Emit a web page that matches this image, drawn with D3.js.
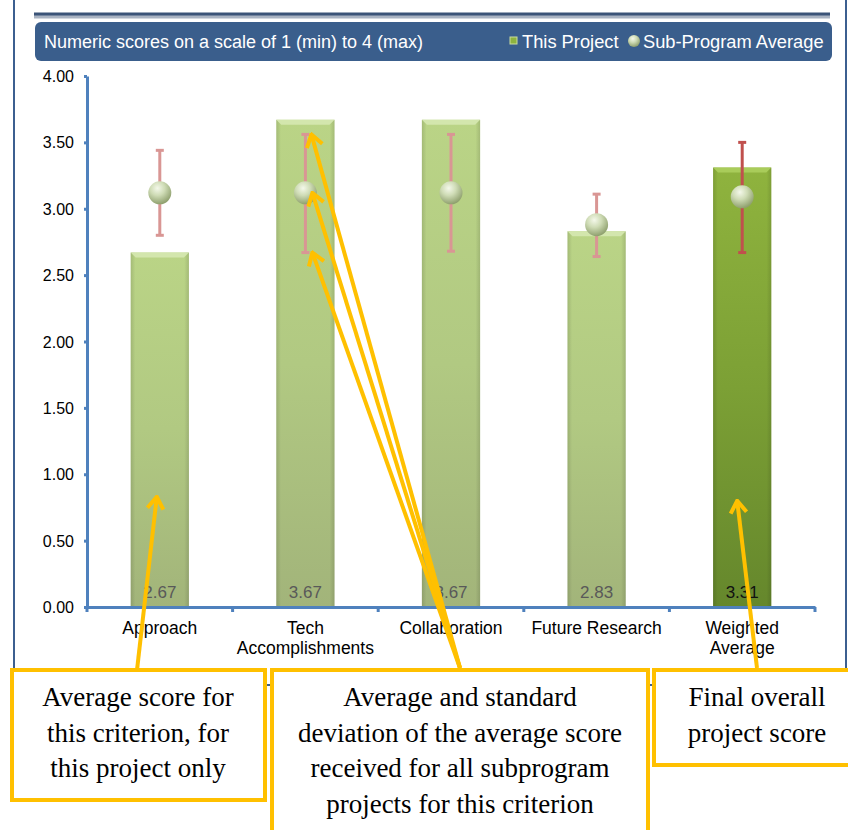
<!DOCTYPE html>
<html>
<head>
<meta charset="utf-8">
<script src="https://cdn.jsdelivr.net/npm/d3@7"></script>
<style>
  body { margin: 0; background: #fff; }
  svg { display: block; }
</style>
</head>
<body>
<svg width="848" height="830"></svg>
<script>
const svg = d3.select('svg');

// data
const categories = ['Approach', 'Tech Accomplishments', 'Collaboration', 'Future Research', 'Weighted Average'];
const categoryLines = [['Approach'], ['Tech', 'Accomplishments'], ['Collaboration'], ['Future Research'], ['Weighted', 'Average']];
const projectScores = [2.67, 3.67, 3.67, 2.83, 3.31];
const subProgramAvg = [3.12, 3.12, 3.12, 2.88, 3.09];
const subProgramLow = [2.80, 2.67, 2.68, 2.64, 2.67];
const subProgramHigh = [3.44, 3.56, 3.56, 3.11, 3.50];
const yTicks = [0, 0.5, 1, 1.5, 2, 2.5, 3, 3.5, 4];

const notes = [
  ['Average score for', 'this criterion, for', 'this project only'],
  ['Average and standard', 'deviation of the average score', 'received for all subprogram', 'projects for this criterion'],
  ['Final overall', 'project score']
];

const sans = 'Liberation Sans, Arial, sans-serif';
const serif = 'Liberation Serif, Times New Roman, serif';

const x = d3.scaleBand()
  .domain(categories)
  .range([87, 815])
  .paddingInner(0.6)
  .paddingOuter(0.3);

const y = d3.scaleLinear()
  .domain([0, 4])
  .range([607, 76]);

const cx = c => x(c) + x.bandwidth() / 2;
const rows = categories.map((c, i) => ({
  cat: c, lines: categoryLines[i], score: projectScores[i],
  avg: subProgramAvg[i], lo: subProgramLow[i], hi: subProgramHigh[i],
  total: i === categories.length - 1
}));

// gradients
const defs = svg.append('defs');
const lin = (id, stops) => {
  const g = defs.append('linearGradient').attr('id', id)
    .attr('x1', 0).attr('y1', 0).attr('x2', 0).attr('y2', 1);
  stops.forEach(s => g.append('stop').attr('offset', s[0]).attr('stop-color', s[1]));
};
lin('barLight', [[0, '#bad486'], [0.5, '#b1c982'], [1, '#a2b47a']]);
lin('barDark', [[0, '#8fb33e'], [0.5, '#7ca035'], [1, '#65872c']]);
const hlin = (id, stops) => {
  const g = defs.append('linearGradient').attr('id', id)
    .attr('x1', 0).attr('y1', 0).attr('x2', 1).attr('y2', 0);
  stops.forEach(s => g.append('stop').attr('offset', s[0]).attr('stop-color', s[1]).attr('stop-opacity', s[2]));
};
hlin('barSide', [[0, '#000', 0.12], [0.08, '#000', 0], [0.92, '#000', 0], [1, '#000', 0.12]]);

const rad = defs.append('radialGradient').attr('id', 'ball')
  .attr('cx', 0.4).attr('cy', 0.3).attr('r', 0.7);
rad.append('stop').attr('offset', 0).attr('stop-color', '#f4f8ea');
rad.append('stop').attr('offset', 0.45).attr('stop-color', '#cfdcb6');
rad.append('stop').attr('offset', 1).attr('stop-color', '#8fa06e');

defs.append('marker').attr('id', 'chev')
  .attr('viewBox', '-14 -10 16 20')
  .attr('markerUnits', 'userSpaceOnUse')
  .attr('markerWidth', 16).attr('markerHeight', 20)
  .attr('refX', 0).attr('refY', 0)
  .attr('orient', 'auto')
  .append('path')
  .attr('d', 'M-12,-8 L0,0 L-12,8')
  .attr('fill', 'none').attr('stroke', '#ffc000')
  .attr('stroke-width', 4).attr('stroke-linejoin', 'miter');

// outer frame
svg.append('rect')
  .attr('x', 14).attr('y', -5).attr('width', 832).attr('height', 690)
  .attr('fill', 'none').attr('stroke', '#3c5f90').attr('stroke-width', 2);
svg.append('line')
  .attr('x1', 34).attr('x2', 830).attr('y1', 16).attr('y2', 16)
  .attr('stroke', '#a9b3c2').attr('stroke-width', 5);
svg.append('line')
  .attr('x1', 34).attr('x2', 830).attr('y1', 14).attr('y2', 14)
  .attr('stroke', '#3b5478').attr('stroke-width', 3);

// header bar with legend
svg.append('rect')
  .attr('x', 35).attr('y', 22).attr('width', 797).attr('height', 39).attr('rx', 6)
  .attr('fill', '#3a5e8c');
svg.append('text')
  .attr('x', 44).attr('y', 48)
  .attr('fill', '#fff').attr('font-family', sans).attr('font-size', 18)
  .text('Numeric scores on a scale of 1 (min) to 4 (max)');
svg.append('rect')
  .attr('x', 510).attr('y', 37).attr('width', 7).attr('height', 7)
  .attr('fill', '#8db33f').attr('stroke', '#c9dc9e').attr('stroke-width', 1);
svg.append('text')
  .attr('x', 522).attr('y', 48)
  .attr('fill', '#fff').attr('font-family', sans).attr('font-size', 18.3)
  .text('This Project');
svg.append('circle')
  .attr('cx', 634).attr('cy', 41).attr('r', 6)
  .attr('fill', 'url(#ball)');
svg.append('text')
  .attr('x', 643).attr('y', 48)
  .attr('fill', '#fff').attr('font-family', sans).attr('font-size', 18.3)
  .text('Sub-Program Average');

// bars
const bars = svg.append('g').selectAll('g.bar')
  .data(rows)
  .enter()
  .append('g').attr('class', 'bar');

bars.append('rect')
  .attr('x', d => x(d.cat))
  .attr('y', d => y(d.score))
  .attr('width', x.bandwidth())
  .attr('height', d => y(0) - y(d.score))
  .attr('fill', d => d.total ? 'url(#barDark)' : 'url(#barLight)');
bars.append('rect')
  .attr('x', d => x(d.cat))
  .attr('y', d => y(d.score))
  .attr('width', x.bandwidth())
  .attr('height', d => y(0) - y(d.score))
  .attr('fill', 'url(#barSide)');
// bevelled top edge
bars.append('path')
  .attr('d', d => {
    const x0 = x(d.cat), x1 = x0 + x.bandwidth(), t = y(d.score);
    return `M${x0},${t} L${x1},${t} L${x1 - 5},${t + 5} L${x0 + 5},${t + 5} Z`;
  })
  .attr('fill', d => d.total ? '#a9cc5a' : '#d3e6ad');

bars.append('text')
  .attr('x', d => cx(d.cat))
  .attr('y', y(0) - 9)
  .attr('text-anchor', 'middle')
  .attr('font-family', sans).attr('font-size', 17)
  .attr('fill', d => d.total ? '#111' : '#595959')
  .text(d => d.score.toFixed(2));

// error bars and averages
const err = svg.append('g').selectAll('g.err')
  .data(rows)
  .enter()
  .append('g').attr('class', 'err')
  .attr('stroke', d => d.total ? '#c0504d' : '#d99694')
  .attr('stroke-width', 3);
err.append('line')
  .attr('x1', d => cx(d.cat)).attr('x2', d => cx(d.cat))
  .attr('y1', d => y(d.hi)).attr('y2', d => y(d.lo));
err.append('line')
  .attr('x1', d => cx(d.cat) - 4).attr('x2', d => cx(d.cat) + 4)
  .attr('y1', d => y(d.hi)).attr('y2', d => y(d.hi));
err.append('line')
  .attr('x1', d => cx(d.cat) - 4).attr('x2', d => cx(d.cat) + 4)
  .attr('y1', d => y(d.lo)).attr('y2', d => y(d.lo));
err.append('circle')
  .attr('cx', d => cx(d.cat))
  .attr('cy', d => y(d.avg))
  .attr('r', 11.5)
  .attr('stroke', 'none')
  .attr('fill', 'url(#ball)');

// axes
const yAxis = svg.append('g')
  .attr('transform', `translate(${x.range()[0]},0)`)
  .call(d3.axisLeft(y).tickValues(yTicks).tickFormat(d3.format('.2f')).tickSize(3).tickSizeOuter(0));
yAxis.select('.domain').attr('stroke', '#4f81bd').attr('stroke-width', 3);
yAxis.selectAll('.tick line').attr('stroke', '#4f81bd').attr('stroke-width', 3);
yAxis.selectAll('.tick text')
  .attr('x', -13)
  .attr('dy', '0.35em')
  .attr('fill', '#000')
  .attr('font-family', sans).attr('font-size', 16);

const xAxis = svg.append('g')
  .attr('transform', `translate(0,${y(0)})`)
  .call(d3.axisBottom(x).tickSize(0).tickSizeOuter(0));
xAxis.select('.domain').attr('stroke', '#4f81bd').attr('stroke-width', 3);
xAxis.selectAll('.tick text').remove();
const bounds = d3.range(categories.length + 1).map(i => x.range()[0] + i * x.step());
xAxis.selectAll('line.bound')
  .data(bounds)
  .enter()
  .append('line').attr('class', 'bound')
  .attr('x1', d => d).attr('x2', d => d)
  .attr('y1', 0).attr('y2', 5)
  .attr('stroke', '#4f81bd').attr('stroke-width', 3);

const labels = svg.append('g').selectAll('text')
  .data(rows)
  .enter()
  .append('text')
  .attr('text-anchor', 'middle')
  .attr('font-family', sans).attr('font-size', 17.5)
  .attr('fill', '#000');
labels.selectAll('tspan')
  .data(d => d.lines.map(l => ({ l, c: d.cat })))
  .enter()
  .append('tspan')
  .attr('x', d => cx(d.c))
  .attr('y', (d, i) => y(0) + 27 + i * 20)
  .text(d => d.l);

// annotation arrows
const first = categories[0], second = categories[1], last = categories[categories.length - 1];
const arrows = [
  { from: [137, 670], to: [cx(first) - 3, y(0.83)] },
  { from: [460, 668], to: [cx(second) + 6, y(subProgramHigh[1])] },
  { from: [460, 668], to: [cx(second) + 7, y(subProgramAvg[1])] },
  { from: [460, 668], to: [cx(second) + 7, y(subProgramLow[1])] },
  { from: [757, 668], to: [cx(last) - 5, y(0.8)] }
];
svg.append('g').selectAll('line')
  .data(arrows)
  .enter()
  .append('line')
  .attr('x1', d => d.from[0]).attr('y1', d => d.from[1])
  .attr('x2', d => d.to[0]).attr('y2', d => d.to[1])
  .attr('stroke', '#ffc000').attr('stroke-width', 4)
  .attr('marker-end', 'url(#chev)');

// annotation boxes
const boxes = [
  { x: 12, y: 670, w: 253, h: 130, cx: 138 },
  { x: 272, y: 670, w: 376, h: 170, cx: 460 },
  { x: 654, y: 670, w: 210, h: 95, cx: 757 }
];
const box = svg.append('g').selectAll('g')
  .data(boxes)
  .enter()
  .append('g');
box.append('rect')
  .attr('x', d => d.x).attr('y', d => d.y)
  .attr('width', d => d.w).attr('height', d => d.h)
  .attr('fill', '#fff').attr('stroke', '#ffc000').attr('stroke-width', 4);
box.each(function (d, i) {
  d3.select(this).selectAll('text')
    .data(notes[i])
    .enter()
    .append('text')
    .attr('x', d.cx)
    .attr('y', (t, j) => 706 + j * 35.5)
    .attr('text-anchor', 'middle')
    .attr('font-family', serif).attr('font-size', 27)
    .attr('fill', '#000')
    .text(t => t);
});
</script>
</body>
</html>
